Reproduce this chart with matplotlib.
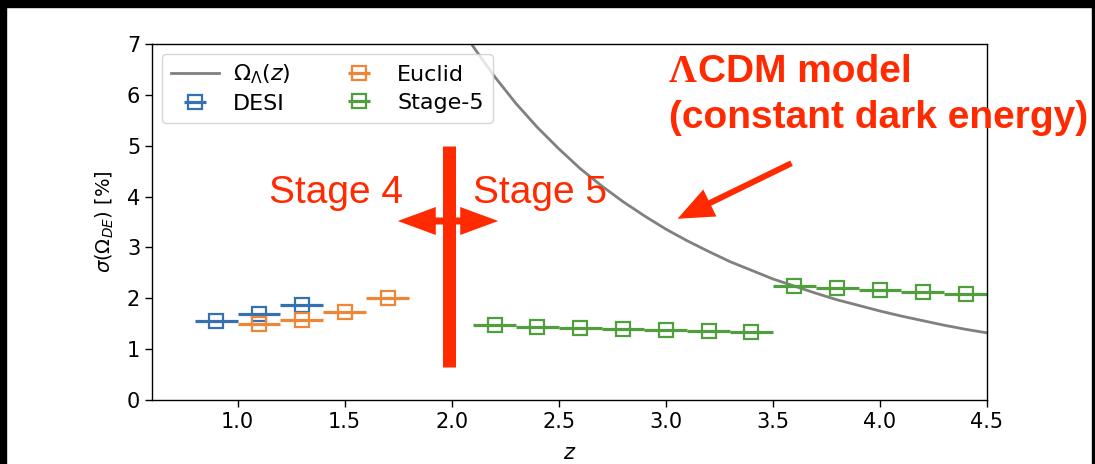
import numpy as np
import matplotlib
matplotlib.use("Agg")
import matplotlib.pyplot as plt
from matplotlib.patches import Rectangle, FancyArrowPatch

# ---------------- data ----------------
desi_z = [0.9, 1.1, 1.3]
desi_sigma = [1.56, 1.69, 1.86]

euclid_z = [1.1, 1.3, 1.5, 1.7]
euclid_sigma = [1.50, 1.57, 1.73, 2.01]

stage5_z = [2.2, 2.4, 2.6, 2.8, 3.0, 3.2, 3.4, 3.6, 3.8, 4.0, 4.2, 4.4]
stage5_sigma = [1.47, 1.44, 1.41, 1.39, 1.37, 1.35, 1.33,
                2.25, 2.20, 2.16, 2.12, 2.08]

z_err = 0.1

omega_z = [2.0, 2.1, 2.2, 2.3, 2.4, 2.5, 2.6, 2.7, 2.8, 2.9, 3.0, 3.1, 3.2,
           3.3, 3.4, 3.5, 3.6, 3.7, 3.8, 3.9, 4.0, 4.1, 4.2, 4.3, 4.4, 4.5]
omega_val = [7.62, 6.95, 6.36, 5.83, 5.36, 4.94, 4.55, 4.21, 3.90, 3.62,
             3.36, 3.13, 2.92, 2.72, 2.55, 2.38, 2.24, 2.10, 1.97, 1.86,
             1.75, 1.65, 1.56, 1.47, 1.39, 1.32]

x_ticks = [1.0, 1.5, 2.0, 2.5, 3.0, 3.5, 4.0, 4.5]
y_ticks = [0, 1, 2, 3, 4, 5, 6, 7]

# ---------------- styling ----------------
W, H, DPI = 1095, 464, 100
C_BLUE = "#3571b0"
C_ORANGE = "#ef8536"
C_GREEN = "#519e3e"
C_GRAY = "#808080"
RED = "#ff2a00"


def pt(px):
    return px * 72.0 / DPI


fig = plt.figure(figsize=(W / DPI + 1e-4, H / DPI + 1e-4), dpi=DPI, facecolor="white")
ax = fig.add_axes([152 / W, 1 - 400 / H, (987 - 152) / W, (400 - 44) / H])

ax.plot(omega_z, omega_val, color=C_GRAY, lw=2.0, label=r"$\Omega_\Lambda(z)$")

eb_kw = dict(fmt="s", ms=10, mfc="none", mew=1.6, elinewidth=2.3, capsize=0)
ax.errorbar(desi_z, desi_sigma, xerr=z_err, color=C_BLUE, label="DESI", **eb_kw)
ax.errorbar(euclid_z, euclid_sigma, xerr=z_err, color=C_ORANGE, label="Euclid", **eb_kw)
ax.errorbar(stage5_z, stage5_sigma, xerr=z_err, color=C_GREEN, label="Stage-5", **eb_kw)

ax.set_xlim(0.6, 4.5)
ax.set_ylim(0, 7)
ax.set_xticks(x_ticks)
ax.set_xticklabels([f"{v:.1f}" for v in x_ticks])
ax.set_yticks(y_ticks)
ax.tick_params(labelsize=15, length=5, width=1.0)
for s in ax.spines.values():
    s.set_linewidth(1.0)
ax.set_xlabel(r"$z$", fontsize=15, labelpad=8)
ax.set_ylabel(r"$\sigma(\Omega_{DE})$ [%]", fontsize=14, labelpad=8)

ax.legend(loc="upper left", ncol=2, fontsize=16, handlelength=2.15,
          handletextpad=0.65, columnspacing=2.0, labelspacing=0.35,
          borderaxespad=0.45)

# ---------------- annotations ----------------
# Stage divider bar
ax.plot([1.985, 1.985], [0.65, 5.0], color=RED, lw=pt(13), solid_capstyle="butt", zorder=5)

# double arrow (figure pixels, origin bottom-left)
yA = H - 221
for x_end in (395, 501):
    arr = FancyArrowPatch((448, yA), (x_end, yA), transform=None,
                          arrowstyle="simple,head_length=%g,head_width=%g,tail_width=%g"
                          % (pt(38), pt(28), pt(7)),
                          mutation_scale=1, color=RED, lw=0, zorder=6)
    fig.patches.append(arr)

fig.text(269 / W, 1 - 203 / H, "Stage 4", color=RED, fontsize=28,
         family="Liberation Sans", ha="left", va="baseline")
fig.text(473 / W, 1 - 203 / H, "Stage 5", color=RED, fontsize=28,
         family="Liberation Sans", ha="left", va="baseline")

fig.text(669 / W, 1 - 82 / H, "Λ", color=RED, fontsize=28, fontweight="bold",
         family="Liberation Serif", ha="left", va="baseline")
fig.text(698 / W, 1 - 82 / H, "CDM model", color=RED, fontsize=28, fontweight="bold",
         family="Liberation Sans", ha="left", va="baseline")
fig.text(669 / W, 1 - 128 / H, "(constant dark energy)", color=RED, fontsize=28,
         fontweight="bold", family="Liberation Sans", ha="left", va="baseline")

arr2 = FancyArrowPatch((794, H - 162), (675, H - 220), transform=None,
                       arrowstyle="simple,head_length=%g,head_width=%g,tail_width=%g"
                       % (pt(36), pt(30), pt(6)),
                       mutation_scale=1, color=RED, lw=0, zorder=6)
fig.patches.append(arr2)

# black frame borders of the screenshot
for (x0, y0, w, h) in [(0, H - 7, W, 7), (0, 0, 6, H), (1092, 0, W - 1092, H)]:
    fig.patches.append(Rectangle((x0 / W, y0 / H), w / W, h / H, transform=fig.transFigure,
                                 color="black", zorder=100))

fig.savefig("out.png", dpi=DPI, facecolor=fig.get_facecolor())
